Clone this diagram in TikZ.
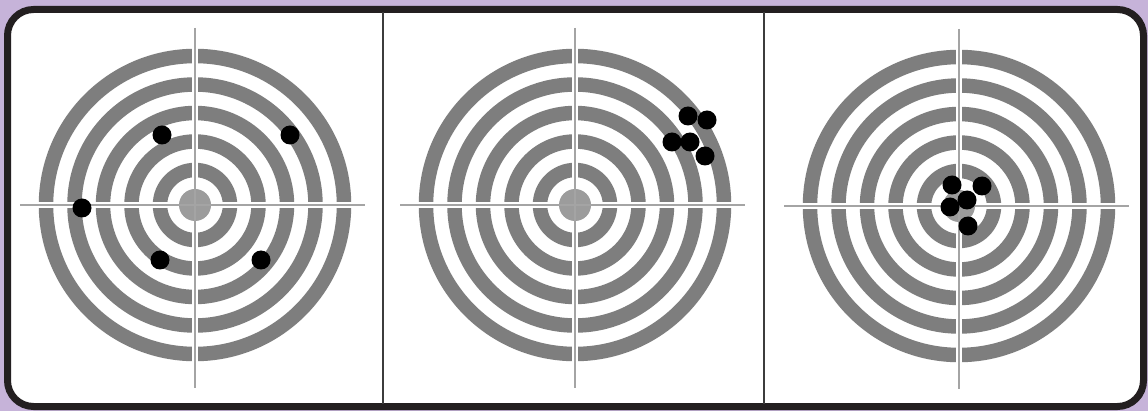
\documentclass[tikz,border=0pt]{standalone}
\usetikzlibrary{calc}
\definecolor{bgpurple}{HTML}{C6B3D9}
\definecolor{framecol}{HTML}{231F20}
\definecolor{ringgray}{HTML}{7E7E7E}
\definecolor{bullgray}{HTML}{9C9C9C}
\definecolor{crossgray}{HTML}{A4A4A4}
\definecolor{divcol}{HTML}{3C3C3C}
\tikzset{
  ring/.style={draw=ringgray, line width=14.5pt},
  bull/.style={fill=bullgray},
  crossgap/.style={draw=white, line width=6pt},
  crossline/.style={draw=crossgray, line width=2.5pt},
  shot/.style={circle, fill=black, draw=none, minimum size=19pt, inner sep=0pt},
  divider/.style={draw=divcol, line width=2pt},
  pics/target/.style={code={
    \foreach \r in {149,120.5,92,63.5,35} \draw[ring] (0,0) circle[radius=\r pt];
    \draw[crossgap] (-160,0) -- (160,0);
    \draw[crossgap] (0,-160) -- (0,160);
    \fill[bull] (0,0) circle[radius=16pt];
    \draw[crossline] (-175,0) -- (170,0);
    \draw[crossline] (0,-177) -- (0,183);
  }}
}
\begin{document}
\begin{tikzpicture}[x=1pt,y=-1pt]
\useasboundingbox (0,0) rectangle (1148,411);
\fill[bgpurple] (0,0) rectangle (1148,411);
\draw[framecol, line width=7pt, fill=white, rounded corners=26pt] (7.5,9.5) rectangle (1143.5,406.5);
% dividers
\coordinate (d1t) at (383,12);
\coordinate (d1b) at (383,404);
\coordinate (d2t) at (764,12);
\coordinate (d2b) at (764,404);
\draw[divider] (d1t) -- (d1b);
\draw[divider] (d2t) -- (d2b);
% targets
\pic at (195,205) {target};
\pic at (575,205) {target};
\pic at (959,206) {target};
% shots, left target
\node[shot] (a1) at (162,135) {};
\node[shot] (a2) at (290,135) {};
\node[shot] (a3) at (82,208) {};
\node[shot] (a4) at (160,260) {};
\node[shot] (a5) at (261,260) {};
% shots, middle target
\node[shot] (b1) at (688,116) {};
\node[shot] (b2) at (707,120) {};
\node[shot] (b3) at (672,142) {};
\node[shot] (b4) at (690,142) {};
\node[shot] (b5) at (705,156) {};
% shots, right target
\node[shot] (c1) at (952,185) {};
\node[shot] (c2) at (982,186) {};
\node[shot] (c3) at (967,200) {};
\node[shot] (c4) at (950,207) {};
\node[shot] (c5) at (968,226) {};
\end{tikzpicture}
\end{document}
